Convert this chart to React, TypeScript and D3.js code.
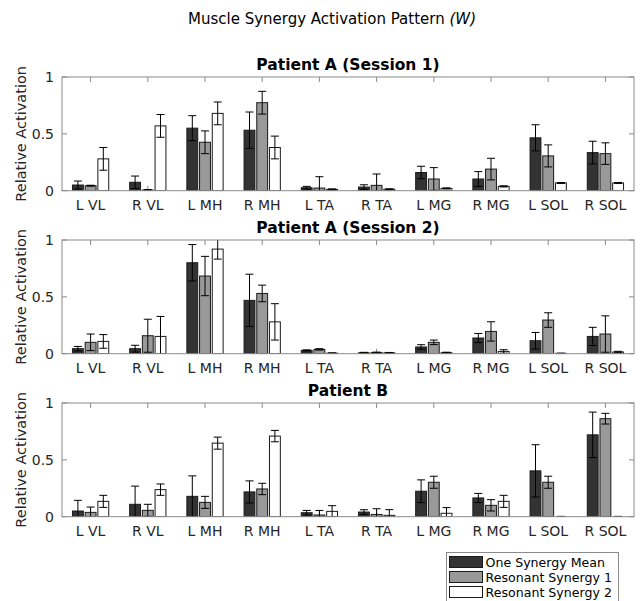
import React from "react";
import * as d3 from "d3";

// muscle categories on the x axis
const muscles = ["L VL", "R VL", "L MH", "R MH", "L TA", "R TA", "L MG", "R MG", "L SOL", "R SOL"];
const seriesNames = ["One Synergy Mean", "Resonant Synergy 1", "Resonant Synergy 2"];
const panelTitles = ["Patient A (Session 1)", "Patient A (Session 2)", "Patient B"];
const yTicks = [0, 0.5, 1];

// Patient A, session 1
const oneMeanA1 = [0.05, 0.074, 0.55, 0.532, 0.026, 0.032, 0.16, 0.103, 0.465, 0.335];
const oneMeanErrA1 = [0.035, 0.055, 0.11, 0.16, 0.012, 0.02, 0.055, 0.065, 0.115, 0.1];
const res1A1 = [0.044, 0.006, 0.426, 0.774, 0.023, 0.047, 0.103, 0.19, 0.306, 0.326];
const res1ErrA1 = [0.004, 0.004, 0.1, 0.1, 0.1, 0.1, 0.1, 0.095, 0.097, 0.095];
const res2A1 = [0.28, 0.57, 0.68, 0.38, 0.012, 0.013, 0.02, 0.038, 0.068, 0.068];
const res2ErrA1 = [0.1, 0.1, 0.1, 0.1, 0.004, 0.004, 0.005, 0.005, 0.004, 0.004];

// Patient A, session 2
const oneMeanA2 = [0.044, 0.044, 0.8, 0.469, 0.029, 0.008, 0.059, 0.138, 0.114, 0.152];
const oneMeanErrA2 = [0.02, 0.03, 0.16, 0.23, 0.005, 0.004, 0.02, 0.04, 0.073, 0.08];
const res1A2 = [0.1, 0.158, 0.683, 0.53, 0.038, 0.01, 0.1, 0.196, 0.296, 0.173];
const res1ErrA2 = [0.073, 0.145, 0.173, 0.073, 0.006, 0.004, 0.02, 0.085, 0.064, 0.16];
const res2A2 = [0.108, 0.152, 0.92, 0.28, 0.005, 0.008, 0.009, 0.02, 0.003, 0.015];
const res2ErrA2 = [0.06, 0.176, 0.088, 0.16, 0.003, 0.003, 0.004, 0.015, 0.002, 0.006];

// Patient B
const oneMeanB = [0.05, 0.109, 0.179, 0.218, 0.035, 0.041, 0.224, 0.165, 0.403, 0.72];
const oneMeanErrB = [0.094, 0.16, 0.18, 0.097, 0.02, 0.02, 0.1, 0.04, 0.23, 0.2];
const res1B = [0.038, 0.056, 0.126, 0.244, 0.015, 0.02, 0.303, 0.1, 0.303, 0.862];
const res1ErrB = [0.047, 0.053, 0.053, 0.05, 0.04, 0.05, 0.053, 0.05, 0.053, 0.047];
const res2B = [0.135, 0.238, 0.647, 0.709, 0.047, 0.012, 0.03, 0.135, 0, 0];
const res2ErrB = [0.053, 0.05, 0.053, 0.05, 0.05, 0.05, 0.05, 0.053, 0.003, 0.003];

const panels = [
  { values: [oneMeanA1, res1A1, res2A1], errors: [oneMeanErrA1, res1ErrA1, res2ErrA1] },
  { values: [oneMeanA2, res1A2, res2A2], errors: [oneMeanErrA2, res1ErrA2, res2ErrA2] },
  { values: [oneMeanB, res1B, res2B], errors: [oneMeanErrB, res1ErrB, res2ErrB] },
];

const fills = ["#333333", "#999999", "#ffffff"];
const font = "DejaVu Sans, sans-serif";
const axisColor = "#8a8a8a";
const textColor = "#262626";

const W = 641;
const H = 601;
const left = 62;
const right = 634;
const panelTop = [77, 240, 403];
const panelH = 113.7;
const barW = 0.19;
const offset = 0.222;
const tickLen = 5;
const capHalf = 4;

const x = d3.scaleLinear().domain([0.5, muscles.length + 0.5]).range([left, right]);

function Panel({ idx }: { idx: number }) {
  const top = panelTop[idx];
  const bottom = top + panelH;
  const y = d3.scaleLinear().domain([0, 1]).range([bottom, top]);
  const p = panels[idx];
  const clipId = `clip-${idx}`;
  return (
    <g>
      <defs>
        <clipPath id={clipId}>
          <rect x={left} y={top} width={right - left} height={panelH} />
        </clipPath>
      </defs>
      {/* x ticks, top and bottom, inward */}
      {muscles.map((m, i) => (
        <g key={m}>
          <line x1={x(i + 1)} x2={x(i + 1)} y1={top} y2={top + tickLen} stroke={axisColor} />
          <line x1={x(i + 1)} x2={x(i + 1)} y1={bottom} y2={bottom - tickLen} stroke={axisColor} />
          <text x={x(i + 1)} y={bottom + 19.5} textAnchor="middle" fontSize={14} fill={textColor} fontFamily={font}>
            {m}
          </text>
        </g>
      ))}
      {/* y ticks */}
      {yTicks.map((t) => (
        <g key={t}>
          <line x1={left} x2={left + tickLen} y1={y(t)} y2={y(t)} stroke={axisColor} />
          <line x1={right} x2={right - tickLen} y1={y(t)} y2={y(t)} stroke={axisColor} />
          <text x={left - 8} y={y(t)} dy="0.36em" textAnchor="end" fontSize={14} fill={textColor} fontFamily={font}>
            {t}
          </text>
        </g>
      ))}
      {/* bars and error bars */}
      <g clipPath={`url(#${clipId})`}>
        {p.values.map((series, s) =>
          series.map((v, i) => {
            const cx = x(i + 1 + (s - 1) * offset);
            const bw = x(barW) - x(0);
            const e = p.errors[s][i];
            const hi = y(Math.min(v + e, 1.2));
            const lo = y(Math.max(v - e, -0.2));
            return (
              <g key={`${s}-${i}`}>
                <rect
                  x={cx - bw / 2}
                  y={y(v)}
                  width={bw}
                  height={y(0) - y(v)}
                  fill={fills[s]}
                  stroke="#1a1a1a"
                  strokeWidth={1}
                />
                <line x1={cx} x2={cx} y1={hi} y2={lo} stroke="#000" strokeWidth={1} />
                <line x1={cx - capHalf} x2={cx + capHalf} y1={hi} y2={hi} stroke="#000" strokeWidth={1} />
                <line x1={cx - capHalf} x2={cx + capHalf} y1={lo} y2={lo} stroke="#000" strokeWidth={1} />
              </g>
            );
          })
        )}
      </g>
      {/* box */}
      <rect x={left} y={top} width={right - left} height={panelH} fill="none" stroke={axisColor} />
      <text
        x={(left + right) / 2}
        y={top - 7}
        textAnchor="middle"
        fontSize={15.5}
        fontWeight="bold"
        fill="#000"
        fontFamily={font}
      >
        {panelTitles[idx]}
      </text>
      <text
        transform={`translate(21,${(top + bottom) / 2}) rotate(-90)`}
        dy="0.36em"
        textAnchor="middle"
        fontSize={14.5}
        fill={textColor}
        fontFamily={font}
      >
        Relative Activation
      </text>
    </g>
  );
}

function Legend() {
  const lx = 446.5;
  const ly = 552.5;
  const rowH = 15;
  return (
    <g>
      <rect x={lx} y={ly} width={172} height={52} fill="#fff" stroke={axisColor} />
      {seriesNames.map((n, i) => (
        <g key={n}>
          <rect x={lx + 3} y={ly + 4 + i * rowH} width={33} height={11} fill={fills[i]} stroke="#1a1a1a" />
          <text x={lx + 39} y={ly + 14.5 + i * rowH} fontSize={12.6} fill="#000" fontFamily={font}>
            {n}
          </text>
        </g>
      ))}
    </g>
  );
}

export default function App() {
  return (
    <svg
      width={W}
      height={H}
      style={{ position: "absolute", left: 0, top: 0, background: "#fff" }}
    >
      <rect width={W} height={H} fill="#fff" />
      <text x={332} y={24} textAnchor="middle" fontSize={15} fill="#000" fontFamily={font}>
        Muscle Synergy Activation Pattern <tspan fontStyle="italic">(W)</tspan>
      </text>
      {panels.map((_, i) => (
        <Panel key={i} idx={i} />
      ))}
      <Legend />
    </svg>
  );
}
